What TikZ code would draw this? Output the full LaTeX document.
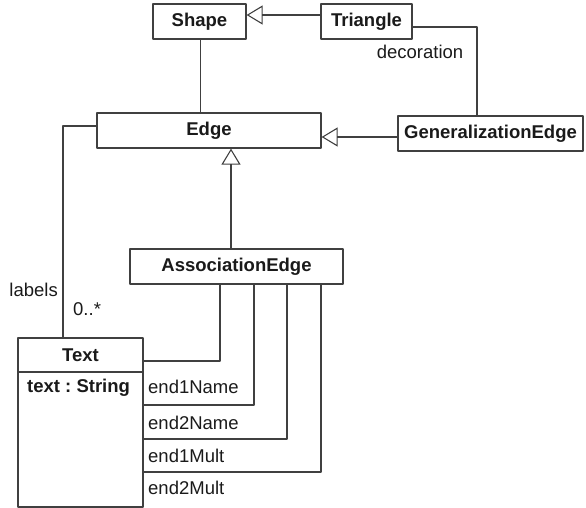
\documentclass[tikz,border=0pt]{standalone}
\usepackage{fontspec}
\setmainfont{Liberation Sans}
\usetikzlibrary{arrows.meta}
\frenchspacing

\definecolor{umlline}{HTML}{404040}
\definecolor{umltext}{HTML}{1A1A1A}

\begin{document}
\begin{tikzpicture}[
  x=1pt,
  y=-1pt,
  line join=round,
  font=\fontsize{18.5}{22}\selectfont,
  text=umltext,
  classbox/.style={draw=umlline,line width=1.2pt,fill=white,inner sep=0pt,font=\fontsize{18.5}{22}\selectfont\bfseries},
  assoc/.style={draw=umlline,line width=1.1pt},
  inherit/.style={draw=umlline,line width=1.1pt,-{Triangle[open,length=16pt,width=19pt]}},
  rolelabel/.style={anchor=west,inner sep=0pt}
]
  % Match the original artwork frame.
  \useasboundingbox (0,0) rectangle (586,508);

  % Class boxes.
  \node[classbox,minimum width=93,minimum height=35] (shape) at (199.5,21.5) {Shape};
  \node[classbox,minimum width=91,minimum height=35] (triangle) at (366.5,21.5) {Triangle};
  \node[classbox,minimum width=224,minimum height=35] (edge) at (209,130.5) {Edge};
  \node[classbox,minimum width=185,minimum height=35] (genEdge) at (490.5,133.5) {GeneralizationEdge};
  \node[classbox,minimum width=213,minimum height=35] (assocEdge) at (236.5,266.5) {AssociationEdge};

  % Text class with one attribute compartment.
  \node[classbox,minimum width=125,minimum height=169] (text) at (80.5,422.5) {};
  \node[font=\fontsize{18.5}{22}\selectfont\bfseries] (textTitle) at (80.5,355) {Text};
  \draw[draw=umlline,line width=1.2pt] (text.west |- 0,372) -- (text.east |- 0,372);
  \node[rolelabel,font=\fontsize{18.5}{22}\selectfont\bfseries] (textAttr) at (27,388) {text : String};

  % Generalizations.
  \draw[inherit] ([yshift=6.5pt]triangle.west) -- ([yshift=6.5pt]shape.east);
  \draw[inherit] ([yshift=-3.5pt]genEdge.west) -- (edge.east |- 0,137);
  \draw[inherit] ([xshift=-5.5pt]assocEdge.north) -- ([xshift=-5.5pt]assocEdge.north |- edge.south);

  % Associations.
  \draw[assoc] ([xshift=1pt]shape.south) -- ([xshift=1pt]shape.south |- edge.north);
  \draw[assoc] ([yshift=-5.5pt]triangle.east) -| ([xshift=-13.5pt]genEdge.north);
  \node (decoration) at (420,52) {decoration};

  \draw[assoc] ([yshift=4.5pt]edge.west) -| ([xshift=-17.5pt]text.north);
  \node[anchor=east,inner sep=0pt] (labelsRole) at (58,290) {labels};
  \node[anchor=west,inner sep=0pt] (labelsMult) at (73,309) {0..*};

  % Role ends from AssociationEdge to Text.
  \foreach \xx/\yy/\role/\ly in {220/361/end1Name/387,254/405/end2Name/423,287/439/end1Mult/456,321/472/end2Mult/488}{
    \draw[assoc] (assocEdge.south -| \xx,0) |- (text.east |- 0,\yy);
    \node[rolelabel] at (148,\ly) {\role};
  }
\end{tikzpicture}
\end{document}
